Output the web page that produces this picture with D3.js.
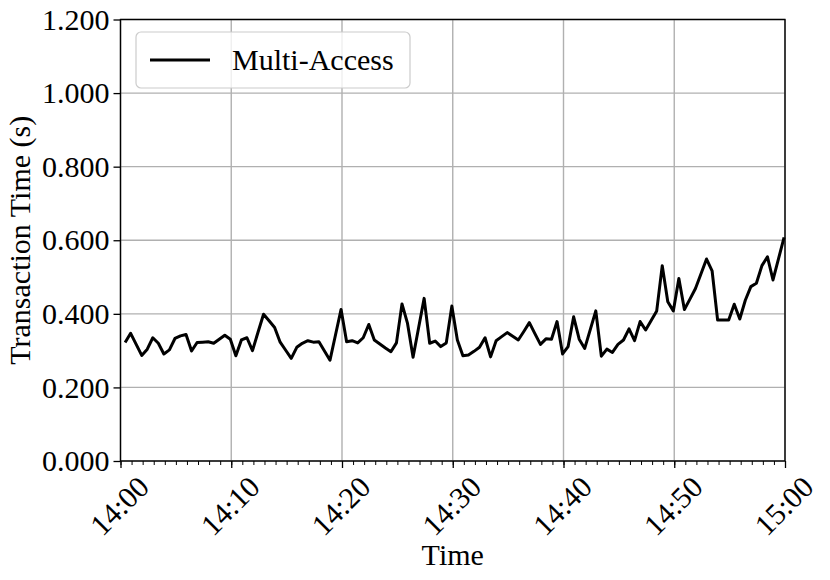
<!DOCTYPE html>
<html>
<head>
<meta charset="utf-8">
<script src="https://cdn.jsdelivr.net/npm/d3@7"></script>
<style>
  html, body { margin: 0; padding: 0; background: #fff; }
  svg { display: block; }
  text { font-family: "Liberation Serif", "Times New Roman", serif; fill: #000; }
</style>
</head>
<body>
<svg id="chart" width="830" height="580"></svg>
<script>
// ---- Data ----
const seriesName = "Multi-Access";
const startTime = "14:00:25";      // first sample
const sampleIntervalSec = 30;      // sampling period
const transactionTime = [
  0.322, 0.347, 0.317, 0.287, 0.304, 0.335, 0.320, 0.291, 0.302, 0.333,
  0.340, 0.344, 0.299, 0.322, 0.323, 0.324, 0.320, 0.331, 0.342, 0.331,
  0.286, 0.329, 0.335, 0.300, 0.350, 0.399, 0.381, 0.363, 0.323, 0.301,
  0.279, 0.309, 0.320, 0.327, 0.323, 0.324, 0.299, 0.274, 0.343, 0.412,
  0.324, 0.327, 0.321, 0.335, 0.371, 0.329, 0.318, 0.307, 0.297, 0.321,
  0.427, 0.374, 0.282, 0.362, 0.442, 0.320, 0.326, 0.311, 0.321, 0.421,
  0.329, 0.286, 0.288, 0.298, 0.309, 0.335, 0.283, 0.327, 0.338, 0.349,
  0.339, 0.329, 0.352, 0.376, 0.346, 0.317, 0.332, 0.331, 0.379, 0.291,
  0.311, 0.392, 0.331, 0.306, 0.357, 0.408, 0.285, 0.304, 0.295, 0.317,
  0.329, 0.359, 0.327, 0.379, 0.356, 0.382, 0.408, 0.531, 0.433, 0.408,
  0.496, 0.412, 0.440, 0.469, 0.509, 0.549, 0.517, 0.383, 0.383, 0.383,
  0.426, 0.386, 0.437, 0.474, 0.483, 0.531, 0.555, 0.492, 0.550, 0.608
];
const xDomain = ["14:00", "15:00"];
const xTickLabels = ["14:00", "14:10", "14:20", "14:30", "14:40", "14:50", "15:00"];
const yTicks = [0, 0.2, 0.4, 0.6, 0.8, 1.0, 1.2];
const yDomain = [0, 1.2];
const xLabel = "Time";
const yLabel = "Transaction Time (s)";

// ---- Helpers ----
const parseHM = d3.timeParse("%H:%M");
const parseHMS = d3.timeParse("%H:%M:%S");
const t0 = parseHMS(startTime);
const data = transactionTime.map((v, i) => ({
  t: d3.timeSecond.offset(t0, i * sampleIntervalSec),
  v
}));

// ---- Layout ----
const svg = d3.select("#chart");
const m = { left: 120.5, top: 19.5, right: 785, bottom: 461 };
const fontSize = 30;

const x = d3.scaleTime().domain(xDomain.map(parseHM)).range([m.left, m.right]);
const y = d3.scaleLinear().domain(yDomain).range([m.bottom, m.top]);

const majorTicks = xTickLabels.map(parseHM);
const minorTicks = d3.timeMinute.range(parseHM(xDomain[0]), d3.timeMinute.offset(parseHM(xDomain[1]), 1));

// grid
const grid = svg.append("g");
grid.selectAll("line.gx").data(majorTicks).join("line")
  .attr("x1", d => x(d)).attr("x2", d => x(d))
  .attr("y1", m.top).attr("y2", m.bottom)
  .attr("stroke", "#b0b0b0").attr("stroke-width", 1.4);
grid.selectAll("line.gy").data(yTicks).join("line")
  .attr("x1", m.left).attr("x2", m.right)
  .attr("y1", d => y(d)).attr("y2", d => y(d))
  .attr("stroke", "#b0b0b0").attr("stroke-width", 1.4);

// line
const line = d3.line().x(d => x(d.t)).y(d => y(d.v));
svg.append("path").datum(data)
  .attr("d", line)
  .attr("fill", "none")
  .attr("stroke", "#000")
  .attr("stroke-width", 3)
  .attr("stroke-linejoin", "round");

// x axis (minor)
const xMinor = d3.axisBottom(x).tickValues(minorTicks).tickSize(4).tickFormat("");
svg.append("g").attr("transform", `translate(0,${m.bottom})`).call(xMinor)
  .call(g => g.select(".domain").remove())
  .call(g => g.selectAll("line").attr("stroke", "#000").attr("stroke-width", 1));

// x axis (major)
const xAxis = d3.axisBottom(x).tickValues(majorTicks).tickSize(7).tickPadding(6)
  .tickFormat(d3.timeFormat("%H:%M"));
const gx = svg.append("g").attr("transform", `translate(0,${m.bottom})`).call(xAxis);
gx.select(".domain").remove();
gx.selectAll("line").attr("stroke", "#000").attr("stroke-width", 1.3);
gx.selectAll("text")
  .attr("font-size", fontSize)
  .attr("font-family", "Liberation Serif")
  .attr("text-anchor", "end")
  .attr("dy", "0.5em")
  .attr("transform", "translate(10,8) rotate(-45)");

// y axis
const yAxis = d3.axisLeft(y).tickValues(yTicks).tickSize(7).tickPadding(4).tickFormat(d3.format(".3f"));
const gy = svg.append("g").attr("transform", `translate(${m.left},0)`).call(yAxis);
gy.select(".domain").remove();
gy.selectAll("line").attr("stroke", "#000").attr("stroke-width", 1.3);
gy.selectAll("text").attr("font-size", fontSize).attr("font-family", "Liberation Serif");

// frame
svg.append("rect")
  .attr("x", m.left).attr("y", m.top)
  .attr("width", m.right - m.left).attr("height", m.bottom - m.top)
  .attr("fill", "none").attr("stroke", "#000").attr("stroke-width", 1.4);

// axis labels
svg.append("text").attr("x", (m.left + m.right) / 2).attr("y", 565)
  .attr("text-anchor", "middle").attr("font-size", fontSize).text(xLabel);
svg.append("text")
  .attr("transform", `translate(30,${(m.top + m.bottom) / 2}) rotate(-90)`)
  .attr("text-anchor", "middle").attr("font-size", fontSize).text(yLabel);

// legend
const lg = svg.append("g");
lg.append("rect").attr("x", 136).attr("y", 32).attr("width", 274).attr("height", 56)
  .attr("rx", 5).attr("fill", "#fff").attr("fill-opacity", 0.8)
  .attr("stroke", "#cccccc").attr("stroke-width", 1.2);
lg.append("line").attr("x1", 150).attr("x2", 210).attr("y1", 60).attr("y2", 60)
  .attr("stroke", "#000").attr("stroke-width", 3);
lg.append("text").attr("x", 232).attr("y", 70).attr("font-size", fontSize).text(seriesName);
</script>
</body>
</html>
